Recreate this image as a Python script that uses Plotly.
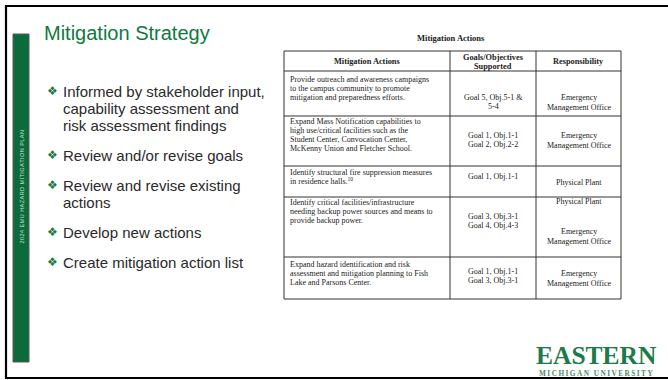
import plotly.graph_objects as go

# ---------------- data ----------------
slide_title = "Mitigation Strategy"
side_label = "2024 EMU HAZARD MITIGATION PLAN"
bullets = [
    ["Informed by stakeholder input,", "capability assessment and", "risk assessment findings"],
    ["Review and/or revise goals"],
    ["Review and revise existing", "actions"],
    ["Develop new actions"],
    ["Create mitigation action list"],
]
table_title = "Mitigation Actions"
headers = [["Mitigation Actions"], ["Goals/Objectives", "Supported"], ["Responsibility"]]
actions = [
    ["Provide outreach and awareness campaigns", "to the campus community to promote", "mitigation and preparedness efforts."],
    ["Expand Mass Notification capabilities to", "high use/critical facilities such as the",
     "Student Center, Convocation Center,", "McKenny Union and Fletcher School."],
    ["Identify structural fire suppression measures", "in residence halls.<sup>10</sup>"],
    ["Identify critical facilities/infrastructure", "needing backup power sources and means to", "provide backup power."],
    ["Expand hazard identification and risk", "assessment and mitigation planning to Fish", "Lake and Parsons Center."],
]
goals = [
    ["Goal 5, Obj.5-1 &", "5-4"],
    ["Goal 1, Obj.1-1", "Goal 2, Obj.2-2"],
    ["Goal 1, Obj.1-1"],
    ["Goal 3, Obj.3-1", "Goal 4, Obj.4-3"],
    ["Goal 1, Obj.1-1", "Goal 3, Obj.3-1"],
]
responsibility = [
    ["Emergency", "Management Office"],
    ["Emergency", "Management Office"],
    ["Physical Plant"],
    ["Physical Plant", "", "", "Emergency", "Management Office"],
    ["Emergency", "Management Office"],
]
logo_main = "EASTERN"
logo_sub = "MICHIGAN UNIVERSITY"

# ---------------- layout geometry (pixels) ----------------
W, H = 668, 380
GREEN = "#0b6b3b"
TITLE_GREEN = "#0e7a40"
SANS = "Liberation Sans, Arial, sans-serif"
SERIF = "Liberation Serif, Times New Roman, serif"

col_x = [284, 450, 536, 621]
row_y = [51, 71, 116, 166, 197, 257, 299]
col1_first = [79, 121, 172, 202, 264]
col2_first = [97, 135, 176, 216, 271]
col3_first = [97, 135, 182, 201, 273]

fig = go.Figure()
shapes = []
ann = []

def text(x, y, s, size, color="#222", family=SANS, xanchor="left", **kw):
    ann.append(dict(x=x, y=y, xref="x", yref="y", text=s, showarrow=False,
                    xanchor=xanchor, yanchor="middle",
                    font=dict(size=size, color=color, family=family), **kw))

# outer slide border
shapes.append(dict(type="rect", xref="x", yref="y", x0=6, y0=6, x1=W + 10, y1=378,
                   line=dict(color="black", width=2.2), fillcolor="rgba(0,0,0,0)"))
# green side bar
shapes.append(dict(type="rect", xref="x", yref="y", x0=13, y0=34, x1=29, y1=362,
                   line=dict(color="#5a5a5a", width=1), fillcolor=GREEN))
text(21.5, 187, "\u200a".join(side_label), 5.5, color="#cfe3d5", family=SANS,
     xanchor="center", textangle=-90)

# title
text(42, 33, slide_title, 20, color=TITLE_GREEN)

# bullets
y = 91
for item in bullets:
    text(52, y, "❖", 12, color="#1a7a3e", family="DejaVu Sans", xanchor="center")
    for line in item:
        text(61, y, line, 15, color="#2a2a2a")
        y += 17
    y += 13

# table title
text((col_x[0] + col_x[3]) / 2 - 2, 38, "<b>" + table_title + "</b>", 8.5, family=SERIF, xanchor="center")

# table grid
for x in col_x:
    shapes.append(dict(type="line", xref="x", yref="y", x0=x, x1=x, y0=row_y[0], y1=row_y[-1],
                       line=dict(color="#333", width=1)))
for yy in row_y:
    shapes.append(dict(type="line", xref="x", yref="y", x0=col_x[0], x1=col_x[3], y0=yy, y1=yy,
                       line=dict(color="#333", width=1)))

# headers
hdr_y = [[61], [57, 66], [61]]
for c, lines in enumerate(headers):
    cx = (col_x[c] + col_x[c + 1]) / 2
    for ln, yy in zip(lines, hdr_y[c]):
        text(cx, yy, "<b>" + ln + "</b>", 8.3, family=SERIF, xanchor="center")

# body
FS = 8.0
for r in range(len(actions)):
    for i, ln in enumerate(actions[r]):
        text(col_x[0] + 4, col1_first[r] + i * 9.3, ln, FS, family=SERIF)
    cx2 = (col_x[1] + col_x[2]) / 2
    for i, ln in enumerate(goals[r]):
        text(cx2, col2_first[r] + i * 9, ln, FS, family=SERIF, xanchor="center")
    cx3 = (col_x[2] + col_x[3]) / 2
    for i, ln in enumerate(responsibility[r]):
        if ln:
            text(cx3, col3_first[r] + i * 10, ln, FS, family=SERIF, xanchor="center")

# logo
text(596, 355.5, "<b>" + logo_main + "</b>", 25.5, color="#1d7a4a", family=SERIF, xanchor="center")
text(596, 373.5, "<b>" + "\u2009".join(logo_sub) + "</b>", 7.3, color="#4a8c66", family=SERIF,
     xanchor="center")

fig.update_layout(
    width=W, height=H, margin=dict(l=0, r=0, t=0, b=0),
    paper_bgcolor="white", plot_bgcolor="white", showlegend=False,
    xaxis=dict(range=[0, W], visible=False, fixedrange=True),
    yaxis=dict(range=[H, 0], visible=False, fixedrange=True),
    shapes=shapes, annotations=ann,
)
fig.write_html("out.html", config={"displayModeBar": False},
               post_script="document.body.style.margin='0';document.body.style.overflow='hidden';")
